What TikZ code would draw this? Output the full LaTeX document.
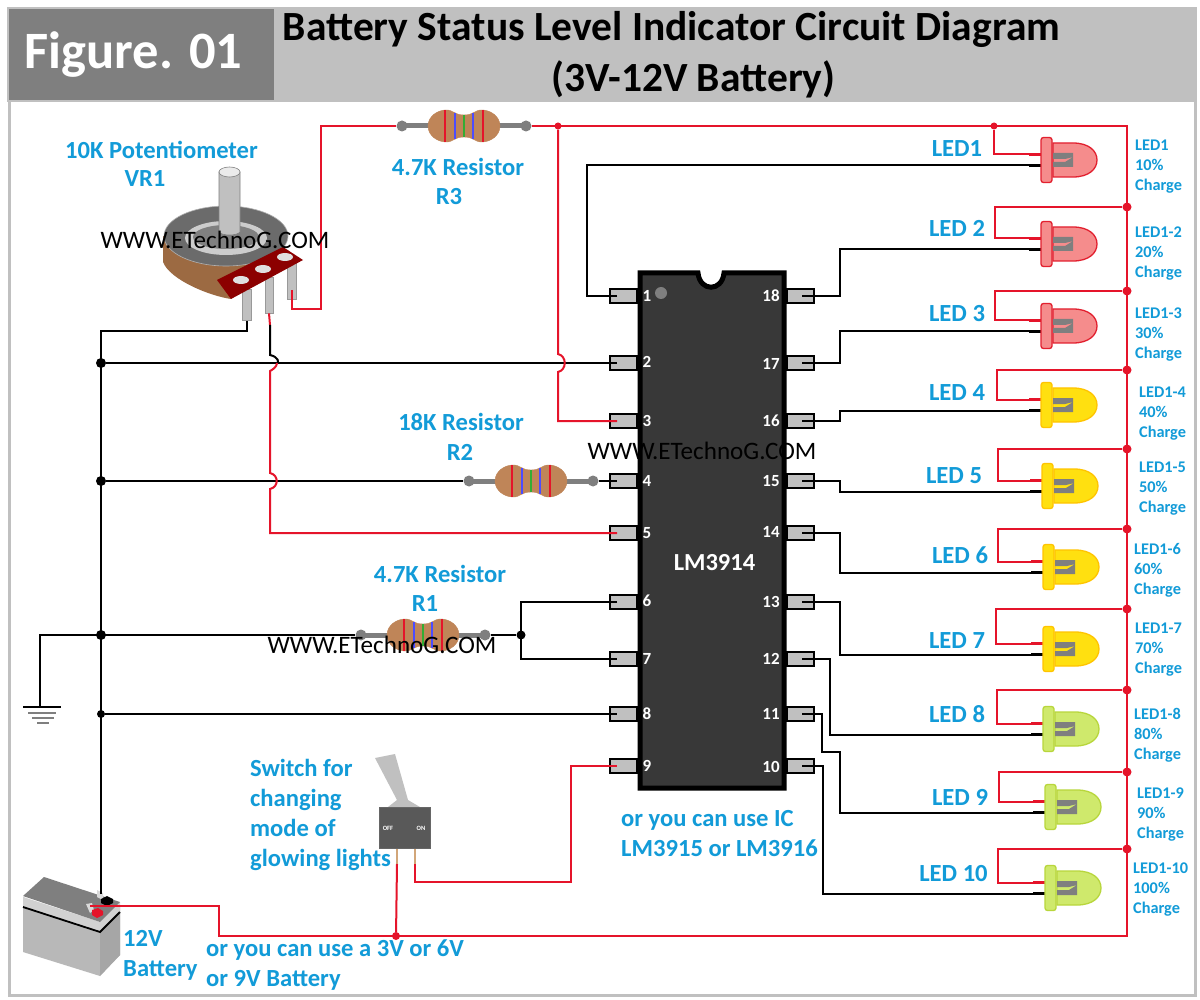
\documentclass[tikz,border=0pt]{standalone}
\usepackage{fontspec}
\setmainfont{Carlito}
\usetikzlibrary{calc}
\definecolor{blu}{HTML}{129BD8}
\definecolor{wred}{HTML}{E5142A}
\definecolor{hdr}{HTML}{C0C0C0}
\definecolor{fig}{HTML}{7F7F7F}
\definecolor{resb}{HTML}{BF8558}
\definecolor{potb}{HTML}{9C6A42}
\definecolor{ledRf}{HTML}{F58C8C}\definecolor{ledRs}{HTML}{E2202F}
\definecolor{ledYf}{HTML}{FFE010}\definecolor{ledYs}{HTML}{FFC400}
\definecolor{ledGf}{HTML}{CFE96C}\definecolor{ledGs}{HTML}{B8D63C}
\tikzset{
 redw/.style={draw=wred,line width=2pt,line join=miter},
 blkw/.style={draw=black,line width=2pt,line join=miter},
 rdot/.style={circle,fill=wred,inner sep=0pt,minimum size=9pt},
 bdot/.style={circle,fill=black,inner sep=0pt,minimum size=10pt},
 pinbox/.style={draw=black,line width=2pt,fill=hdr,minimum width=27pt,minimum height=14pt,inner sep=0pt},
 pinnum/.style={text=white,font=\fontsize{17}{17}\selectfont\bfseries,inner sep=0pt},
 lab/.style={text=blu,font=\fontsize{24.6}{30}\selectfont\bfseries,inner sep=0pt,align=center},
 labl/.style={lab,align=left,anchor=west},
 side/.style={text=blu,font=\fontsize{16.3}{20}\selectfont\bfseries,inner sep=0pt,align=left,anchor=west},
 wm/.style={text=black,font=\fontsize{25.1}{25}\selectfont,inner sep=0pt},
 resdot/.style={circle,fill=fig,inner sep=0pt,minimum size=11pt},
 potpin/.style={draw=fig!80,line width=0.8pt,fill=hdr,inner sep=0pt},
}
\newcommand{\resi}[3]{%
 \begin{scope}[shift={(#2,#3)}]
 \draw[fig,line width=5pt] (-62,0)--(62,0);
 \node[resdot] (#1-l) at (-62,0) {};
 \node[resdot] (#1-r) at (62,0) {};
 \filldraw[fill=resb,draw=resb] (-36,0) .. controls (-36,-10) and (-26,-16) .. (-18,-16) .. controls (-10,-16) and (-10,-11) .. (0,-11) .. controls (10,-11) and (10,-16) .. (18,-16) .. controls (26,-16) and (36,-10) .. (36,0) .. controls (36,10) and (26,16) .. (18,16) .. controls (10,16) and (10,11) .. (0,11) .. controls (-10,11) and (-10,16) .. (-18,16) .. controls (-26,16) and (-36,10) .. (-36,0) -- cycle;
 \draw[wred,line width=2.8pt] (-19,-16)--(-19,16) (19,-16)--(19,16);
 \draw[blue!70!white,line width=2.8pt] (-9,-13)--(-9,13) (9,-13)--(9,13);
 \draw[green!60!black!80!white,line width=2.8pt] (0,-11)--(0,11);
 \end{scope}}
\newcommand{\ledshape}[5]{%
 \begin{scope}[shift={(#2,#3)}]
 \draw[wred,line width=3.2pt] (-12,-5.5)--(0,-5.5);
 \draw[black,line width=3.2pt] (-12,5.5)--(0,5.5);
 \coordinate (#1-r) at (-11,-5.5);
 \coordinate (#1-b) at (-11,5.5);
 \filldraw[fill=#4,draw=#5,line width=1.3pt] (12,-17) -- (32,-17) .. controls (48,-17) and (56,-9) .. (56,0) .. controls (56,9) and (48,17) .. (32,17) -- (12,17) -- cycle;
 \filldraw[fill=#4,draw=#5,line width=1.3pt,rounded corners=2.5pt] (0,-22.5) rectangle (11,22.5);
 \fill[fig] (12,-7) -- (32,-7) -- (32,7) -- (12,7) -- (12,2) -- (24,2) -- (32,-3) -- (24,-1) -- (12,-1) -- cycle;
 \end{scope}}
\begin{document}
\begin{tikzpicture}[x=1pt,y=-1pt]
\useasboundingbox (0,0) rectangle (1200,1000);
\fill[white] (0,0) rectangle (1200,1000);
% frame and header
\draw[hdr,line width=3pt] (9,100) rectangle (1195,995);
\fill[hdr] (7,7) rectangle (1197,102);
\node[fill=fig,minimum width=265pt,minimum height=91pt,inner sep=0pt] (figbox) at (141.5,54.5) {};
\node[text=white,font=\fontsize{52.5}{52}\selectfont\bfseries,inner sep=0pt] (figtxt) at (133.5,55) {Figure. 01};
\node[text=black,font=\fontsize{41.5}{41}\selectfont\bfseries,inner sep=0pt] (title1) at (671.5,29) {Battery Status Level Indicator Circuit Diagram};
\node[text=black,font=\fontsize{41.5}{41}\selectfont\bfseries,inner sep=0pt] (title2) at (693.5,79) {(3V-12V Battery)};

% IC pins
\foreach \n/\y in {1/296,2/363,3/421,4/481,5/533,6/602,7/659,8/714,9/766}{
 \node[pinbox] (p\n) at (623,\y) {};
 \coordinate (w\n) at (617,\y);
}
\foreach \n/\y in {18/296,17/363,16/421,15/481,14/533,13/602,12/659,11/714,10/766}{
 \node[pinbox] (p\n) at (800,\y) {};
 \coordinate (w\n) at (802,\y);
}
% IC body
\filldraw[fill=black!78,draw=black,line width=5pt,line join=miter] (640,273) -- (698,273) .. controls (700,292) and (722,292) .. (724,273) -- (784,273) -- (784,788) -- (640,788) -- cycle;
\fill[fig] (661,293) circle (6);
\foreach \n/\y in {1/296,2/362,3/421,4/481,5/533,6/601,7/659,8/714,9/766}{\node[pinnum] at (647,\y) {\n};}
\foreach \n/\y in {18/296,17/364,16/421,15/481,14/532,13/602,12/659,11/714,10/767}{\node[pinnum] at (771,\y) {\n};}
\node[text=white,font=\fontsize{24.5}{24}\selectfont\bfseries,inner sep=0pt] (ictxt) at (714.5,563) {LM3914};

% resistors
\resi{rthree}{464}{126}
\resi{rtwo}{531}{481}
\resi{rone}{423}{635}

% LEDs
\ledshape{L1}{1041}{160}{ledRf}{ledRs}
\ledshape{L2}{1041}{244}{ledRf}{ledRs}
\ledshape{L3}{1041}{326}{ledRf}{ledRs}
\ledshape{L4}{1041}{405}{ledYf}{ledYs}
\ledshape{L5}{1042}{486}{ledYf}{ledYs}
\ledshape{L6}{1043}{567}{ledYf}{ledYs}
\ledshape{L7}{1043}{649}{ledYf}{ledYs}
\ledshape{L8}{1043}{729}{ledGf}{ledGs}
\ledshape{L9}{1045}{807}{ledGf}{ledGs}
\ledshape{L10}{1045}{888}{ledGf}{ledGs}

% potentiometer
\node[potpin,minimum width=9pt,minimum height=31pt] (pot1) at (246.5,305) {};
\node[potpin,minimum width=8pt,minimum height=36pt] (pot2) at (269,295) {};
\node[potpin,minimum width=9pt,minimum height=36pt] (pot3) at (291.5,281) {};
\fill[potb] (163,236) -- (163,262) .. controls (170,280) and (210,296) .. (231,299) -- (288,250) -- cycle;
\fill[black!58,draw=black!30,line width=0.6pt] (226,236) ellipse [x radius=62,y radius=30];
\fill[black!20] (226,238) ellipse [x radius=41,y radius=17];
\fill[black!50] (226,237) ellipse [x radius=33,y radius=12];
\fill[hdr,draw=fig,line width=0.6pt] (219,172) -- (219,232) .. controls (222,236) and (237,236) .. (240,232) -- (240,172) -- cycle;
\fill[black!8,draw=fig,line width=0.6pt] (229.5,172) ellipse [x radius=10.5,y radius=5];
\fill[red!55!black] (217,280) -- (231,299) -- (303,260) -- (283,247) -- cycle;
\foreach \hx/\hy in {241/280,263/269,285/257}{\fill[black!12] (\hx,\hy) ellipse [x radius=8,y radius=4];}
\coordinate (potw) at (270,325);
\coordinate (potr) at (292,290);

% switch
\fill[hdr] (375,758) -- (395,754) -- (408,800) -- (420,807) -- (388,807) -- (397,800) -- cycle;
\draw[brown!70!white,line width=2.5pt] (397,848)--(397,864) (415,848)--(415,864);
\node[draw=black!60,line width=1pt,fill=black!65,minimum width=51pt,minimum height=41pt,inner sep=0pt] (sw) at (404.5,827.5) {};
\node[text=white,font=\fontsize{6.5}{6.5}\selectfont\bfseries,inner sep=0pt] (swoff) at (388,828) {OFF};
\node[text=white,font=\fontsize{6.5}{6.5}\selectfont\bfseries,inner sep=0pt] (swon) at (421,828) {ON};
\coordinate (swa) at (397,864);
\coordinate (swb) at (415,864);

% battery
\fill[black!28] (23,897) -- (23,952) -- (100,976) -- (120,955) -- (120,907) -- (100,930) -- cycle;
\fill[black!35] (100,932) -- (120,912) -- (120,955) -- (100,976) -- cycle;
\fill[black!18] (23,897) -- (100,922) -- (120,902) -- (120,912) -- (100,932) -- (23,907) -- cycle;
\fill[fig] (23,896) -- (44,877) -- (120,902) -- (100,922) -- cycle;
\draw[black,line width=1.8pt] (23,907) -- (100,932) -- (120,912);
\fill[black!15] (97,890) -- (103,893) -- (103,900) -- (97,897) -- cycle;
\fill[black] (101,899) -- (107,896) -- (113,899) -- (113,903) -- (107,906) -- (101,903) -- cycle;
\fill[black!15] (86,904) -- (92,903) -- (94,910) -- (90,913) -- cycle;
\fill[wred] (92,910) -- (98,908) -- (103,911) -- (103,915) -- (97,918) -- (92,915) -- cycle;
\coordinate (batp) at (90,906);
\coordinate (batn) at (101,894);

% ground
\draw[black,line width=1.8pt] (23,707)--(61,707);
\draw[fig,line width=1.6pt] (28,713)--(56,713) (32,718)--(54,718) (37,723)--(49,723);
\coordinate (gnd) at (40,707);

% junctions
\node[bdot] (j2) at (101,363) {};
\node[bdot] (j4) at (101,481) {};
\node[bdot] (jg) at (101,635) {};
\node[bdot,minimum size=8pt] (j8) at (101,714) {};
\node[bdot,minimum size=9pt] (j6) at (521,635) {};
\node[rdot,minimum size=7pt] (jr1) at (558,126) {};
\node[rdot,minimum size=7pt] (jr2) at (994,126) {};
\node[rdot,minimum size=8pt] (jsw) at (396,936) {};

% black wires
\draw[blkw] (batn) -- (101,331) -| (pot1.south);
\draw[blkw] (j2) -- (w2);
\draw[blkw] (j4) -- (rtwo-l);
\draw[blkw] (rtwo-r) -- (w4);
\draw[blkw] (gnd) |- (rone-l);
\draw[blkw] (rone-r) -- (j6);
\draw[blkw] (w6) -| (521,659) -- (w7);
\draw[blkw] (j8) -- (w8);
\draw[blkw] (w1) -| (587,165.5) -- (L1-b);
\draw[blkw] (w18) -| (840,249.5) -- (L2-b);
\draw[blkw] (w17) -| (840,331.5) -- (L3-b);
\draw[blkw] (w16) -| (840,410.5) -- (L4-b);
\draw[blkw] (w15) -| (840,491.5) -- (L5-b);
\draw[blkw] (w14) -| (840,572.5) -- (L6-b);
\draw[blkw] (w13) -| (840,654.5) -- (L7-b);
\draw[blkw] (w12) -| (830,734.5) -- (L8-b);
\draw[blkw] (w11) -| (822,752) -| (840,812.5) -- (L9-b);
\draw[blkw] (w10) -| (823,893.5) -- (L10-b);

% potentiometer wiper (black part, then red, hopping the two black lines)
\draw[redw] (pot2.south) -- (potw);
\draw[blkw] (potw) -- (270,355) .. controls (279,357) and (279,363) .. (277,363);
\draw[redw] (277,363) .. controls (277,367) and (272,370) .. (270,371) -- (270,473) .. controls (279,475) and (279,487) .. (270,489) -- (270,533) -- (w5);
% red wires
\draw[redw] (potr) |- (321,309) |- (rthree-l);
\draw[redw] (rthree-r) -- (1127,126) -- (1127,936) -- (219,936) |- (batp);
\draw[redw] (jr1) -- (558,354) .. controls (567,356) and (567,370) .. (558,372) |- (w3);
\draw[redw] (jr2) |- (L1-r);
\foreach \n/\ry/\tx in {2/207/995,3/291/995,4/370/997,5/449/998,6/529/998,7/609/996,8/690/997,9/772/999,10/849/998}{
 \node[rdot] (t\n) at (1127,\ry) {};
 \draw[redw] (t\n) -- (\tx,\ry) |- (L\n-r);
}
\draw[redw] (swa) -- (jsw);
\draw[redw] (swb) |- (571,882) |- (w9);

% labels
\node[lab] (tpot) at (161.5,150) {10K Potentiometer};
\node[lab] (tpotb) at (145,179) {VR1};
\node[lab] (tr3) at (458,167) {4.7K Resistor};
\node[lab] (tr3b) at (449,197) {R3};
\node[lab] (tr2) at (461,422) {18K Resistor};
\node[lab] (tr2b) at (460,452) {R2};
\node[lab] (tr1) at (440,574) {4.7K Resistor};
\node[lab] (tr1b) at (425,604) {R1};
\node[labl] (tic) at (621,834) {or you can use IC\\LM3915 or LM3916};
\node[labl] (tsw) at (250,815) {Switch for\\changing\\mode of\\glowing lights};
\node[labl] (tbat) at (123,955) {12V\\Battery};
\node[labl] (tbat2) at (206,965) {or you can use a 3V or 6V\\or 9V Battery};
\foreach \n/\t/\x/\y in {a/LED1/957/149,b/LED 2/957/228,c/LED 3/957/314,d/LED 4/957/393,e/LED 5/954/476,f/LED 6/960/555,g/LED 7/957/641,h/LED 8/957/714,i/LED 9/960/797,j/LED 10/953.5/874}{
 \node[lab] (ll\n) at (\x,\y) {\t};
}
\node[side] (s1) at (1135,166.5) {LED1\\10\%\\Charge};
\node[side] (s2) at (1135,253.5) {LED1-2\\20\%\\Charge};
\node[side] (s3) at (1135,334.5) {LED1-3\\30\%\\Charge};
\node[side] (s4) at (1139,413.5) {LED1-4\\40\%\\Charge};
\node[side] (s5) at (1139,488.5) {LED1-5\\50\%\\Charge};
\node[side] (s6) at (1134,570.5) {LED1-6\\60\%\\Charge};
\node[side] (s7) at (1135,649.5) {LED1-7\\70\%\\Charge};
\node[side] (s8) at (1134,735.5) {LED1-8\\80\%\\Charge};
\node[side] (s9) at (1137,814.5) {LED1-9\\90\%\\Charge};
\node[side] (s10) at (1133,889.5) {LED1-10\\100\%\\Charge};
% watermark
\node[wm] (wm1) at (215,240) {WWW.ETechnoG.COM};
\node[wm] (wm2) at (702,451) {WWW.ETechnoG.COM};
\node[wm] (wm3) at (382,645) {WWW.ETechnoG.COM};
\end{tikzpicture}
\end{document}
